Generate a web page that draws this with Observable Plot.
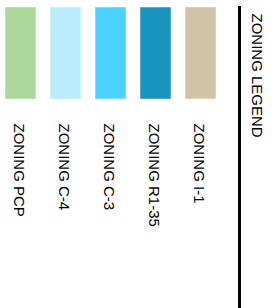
<!DOCTYPE html>
<html>
<head>
<meta charset="utf-8">
<script src="https://cdn.jsdelivr.net/npm/d3@7"></script>
<script src="https://cdn.jsdelivr.net/npm/@observablehq/plot@0.6"></script>
<style>
  html, body { margin: 0; padding: 0; background: #fff; }
  svg { display: block; }
</style>
</head>
<body>
<div id="chart"></div>
<script>
const title = "ZONING LEGEND";
const zones = ["ZONING PCP", "ZONING C-4", "ZONING C-3", "ZONING R1-35", "ZONING I-1"];
const colors = ["#acd79a", "#baecfd", "#4ad3ff", "#1a93c0", "#d0c3a7"];

const data = zones.map((z, i) => ({zone: z, color: colors[i], row: "swatch"}));

const chart = Plot.plot({
  width: 275,
  height: 308,
  marginTop: 7,
  marginBottom: 0,
  marginLeft: 3,
  marginRight: 36,
  style: {fontFamily: "'Liberation Sans', Arial, sans-serif", background: "#fff"},
  x: {type: "band", domain: zones, range: [3, 217], paddingInner: 0.322, paddingOuter: 0, axis: null},
  y: {type: "band", domain: ["swatch"], range: [7, 99], padding: 0, axis: null},
  color: {type: "identity"},
  marks: [
    Plot.cell(data, {x: "zone", y: "row", fill: "color", stroke: "#ffffff", strokeOpacity: 0.5, strokeWidth: 1, inset: 0}),
    Plot.text(data, {x: "zone", y: "row", text: "zone", rotate: 90, textAnchor: "start", lineAnchor: "middle", dy: 70, dx: -2, fontSize: 15, fill: "#000"}),
    Plot.frame({anchor: "right", stroke: "#000", strokeWidth: 3}),
    Plot.text([title], {frameAnchor: "top-right", text: d => d, rotate: 90, textAnchor: "start", lineAnchor: "middle", dx: 17.5, dy: 6, fontSize: 15, fill: "#000"})
  ]
});
document.getElementById("chart").appendChild(chart);
</script>
</body>
</html>
